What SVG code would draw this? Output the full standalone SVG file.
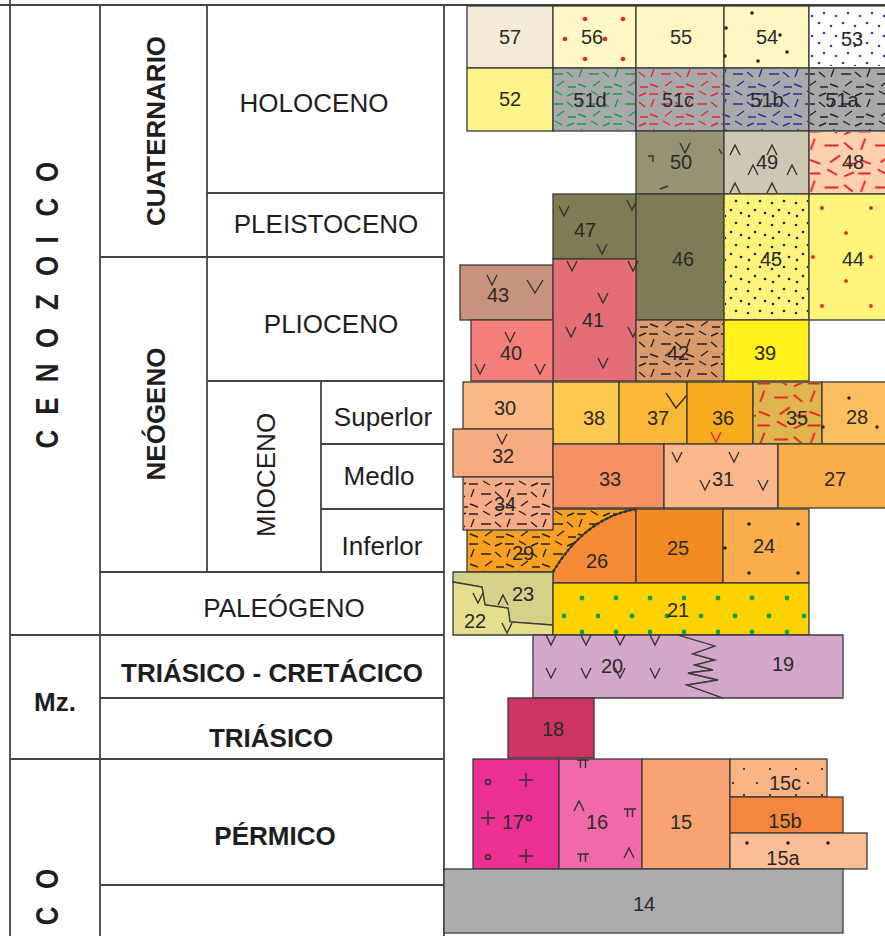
<svg xmlns="http://www.w3.org/2000/svg" width="885" height="936" viewBox="0 0 885 936">
<style>
.tl{stroke:#444;stroke-width:1.8;fill:none}
.bk{stroke:#3a3a3a;stroke-width:1.3}
.n{font-family:"Liberation Sans",Arial,sans-serif;font-size:20px;fill:#2a2a2a;text-anchor:middle}
.lb{font-family:"Liberation Sans",Arial,sans-serif;font-size:26px;fill:#1e1e1e;text-anchor:middle}
.bd{font-weight:bold}
.mk{fill:none;stroke:#333;stroke-width:1.4}
.mr{fill:none;stroke:#e8262a;stroke-width:1.5}
.dk{fill:#222}
.dr{fill:#e8262a}
.dg{fill:#0fa04a}
</style>
<defs>
<path id="dsh" d="M1 4h9M15 1l7 4M27 6l7-3M6 9l-3 8M13 14h10M27 12l6 5M2 24l8 3M17 26l7-5M28 27h8" fill="none" stroke-width="1.4"/>
<pattern id="pG" width="36" height="30" patternUnits="userSpaceOnUse"><use href="#dsh" stroke="#13a046"/></pattern>
<pattern id="pR" width="36" height="30" patternUnits="userSpaceOnUse"><use href="#dsh" stroke="#e8262a"/></pattern>
<pattern id="pB" width="36" height="30" patternUnits="userSpaceOnUse"><use href="#dsh" stroke="#2b2ba0"/></pattern>
<pattern id="pK" width="36" height="30" patternUnits="userSpaceOnUse"><use href="#dsh" stroke="#222"/></pattern>
<pattern id="pR2" width="36" height="30" patternUnits="userSpaceOnUse" patternTransform="scale(1.4)"><use href="#dsh" stroke="#e8262a"/></pattern>
<pattern id="pDk" width="24" height="22" patternUnits="userSpaceOnUse"><circle cx="4" cy="5" r="1.3" fill="#222"/><circle cx="16" cy="3" r="1.3" fill="#222"/><circle cx="11" cy="12" r="1.3" fill="#222"/><circle cx="21" cy="15" r="1.3" fill="#222"/><circle cx="5" cy="18" r="1.3" fill="#222"/></pattern>
<pattern id="pDb" width="24" height="20" patternUnits="userSpaceOnUse"><circle cx="3" cy="3" r="1.3" fill="#3a3aa8"/><circle cx="15" cy="6" r="1.3" fill="#3a3aa8"/><circle cx="8" cy="13" r="1.3" fill="#3a3aa8"/><circle cx="20" cy="16" r="1.3" fill="#3a3aa8"/></pattern>
<path id="v" d="M-5 -5L0 5L5 -5"/>
<path id="cr" d="M-5 5L0 -5L5 5"/>
<path id="pi" d="M-6 -3H6M-2.5 -3V5M2.5 -3V5"/>
<path id="pl" d="M-7 0H7M0 -7V7"/>
</defs>

<g id="table">
<path class="tl" d="M0 5H885M10 0V936M100 5V936M207 5V572M444 5V936M321 381V572M207 193H444M100 257H444M207 381H444M321 444H444M321 509H444M100 572H444M10 635H444M100 698H444M10 759H444M100 885H444"/>
</g>

<g id="t-cenozoico"><text class="lb bd" transform="translate(58,0) rotate(-90) scale(1,1.2)" x="-439 -406 -373 -338 -302 -266 -240 -207 -172" y="0">CENOZOICO</text></g>
<g id="t-paleozoico"><text class="lb bd" transform="translate(58,0) rotate(-90) scale(1,1.2)" x="-916 -879" y="0">CO</text></g>
<g id="t-mz"><text class="lb bd" x="55" y="711">Mz.</text></g>
<g id="t-cuaternario"><text class="lb bd" transform="translate(165,131) rotate(-90)">CUATERNARIO</text></g>
<g id="t-neogeno"><text class="lb bd" transform="translate(165,414) rotate(-90)">NEÓGENO</text></g>
<g id="t-mioceno"><text class="lb" transform="translate(275,475) rotate(-90)">MIOCENO</text></g>
<g id="t-holoceno"><text class="lb" x="314" y="112">HOLOCENO</text></g>
<g id="t-pleistoceno"><text class="lb" x="326" y="233">PLEISTOCENO</text></g>
<g id="t-plioceno"><text class="lb" x="331" y="333">PLIOCENO</text></g>
<g id="t-superior"><text class="lb" x="383" y="426">Superlor</text></g>
<g id="t-medio"><text class="lb" x="379" y="485">Medlo</text></g>
<g id="t-inferior"><text class="lb" x="382" y="555">Inferlor</text></g>
<g id="t-paleogeno"><text class="lb" x="284" y="617">PALEÓGENO</text></g>
<g id="t-triascret"><text class="lb bd" x="272" y="682">TRIÁSICO - CRETÁCICO</text></g>
<g id="t-triasico"><text class="lb bd" x="271" y="747">TRIÁSICO</text></g>
<g id="t-permico"><text class="lb bd" x="275" y="845">PÉRMICO</text></g>

<g id="units">
<g id="u57"><rect class="bk" x="467" y="6" width="86" height="62" fill="#f4ebd6"/><text class="n" x="510" y="44">57</text></g>
<g id="u56"><rect class="bk" x="553" y="6" width="83" height="62" fill="#fff7c5"/>
<circle class="dr" cx="585" cy="19" r="2.3"/><circle class="dr" cx="623" cy="19" r="2.3"/><circle class="dr" cx="565" cy="39" r="2.3"/><circle class="dr" cx="605" cy="39" r="2.3"/><circle class="dr" cx="585" cy="59" r="2.3"/><circle class="dr" cx="623" cy="59" r="2.3"/>
<text class="n" x="592" y="44">56</text></g>
<g id="u55"><rect class="bk" x="636" y="6" width="88" height="62" fill="#fff6c3"/><text class="n" x="681" y="44">55</text></g>
<g id="u54"><rect class="bk" x="724" y="6" width="85" height="62" fill="#fff6c3"/>
<circle class="dk" cx="752" cy="13" r="1.8"/><circle class="dk" cx="726" cy="28" r="1.8"/><circle class="dk" cx="780" cy="35" r="1.8"/><circle class="dk" cx="787" cy="52" r="1.8"/><circle class="dk" cx="758" cy="61" r="1.8"/><circle class="dk" cx="725" cy="56" r="1.8"/>
<text class="n" x="767" y="44">54</text></g>
<g id="u53"><rect class="bk" x="809" y="6" width="80" height="62" fill="#ffffff"/><rect x="811" y="8" width="76" height="58" fill="url(#pDb)"/><text class="n" x="852" y="46">53</text></g>

<g id="u52"><rect class="bk" x="467" y="68" width="86" height="63" fill="#fff38c"/><text class="n" x="510" y="106">52</text></g>
<g id="u51d"><rect class="bk" x="553" y="68" width="83" height="63" fill="#a8a9ab"/><rect x="554" y="69" width="81" height="61" fill="url(#pG)"/><text class="n" x="590" y="107">51d</text></g>
<g id="u51c"><rect class="bk" x="636" y="68" width="88" height="63" fill="#a8a9ab"/><rect x="637" y="69" width="86" height="61" fill="url(#pR)"/><text class="n" x="678" y="107">51c</text></g>
<g id="u51b"><rect class="bk" x="724" y="68" width="85" height="63" fill="#a8a9ab"/><rect x="725" y="69" width="83" height="61" fill="url(#pB)"/><text class="n" x="767" y="107">51b</text></g>
<g id="u51a"><rect class="bk" x="809" y="68" width="80" height="63" fill="#a8a9ab"/><rect x="810" y="69" width="78" height="61" fill="url(#pK)"/><text class="n" x="842" y="107">51a</text></g>

<g id="u50"><rect class="bk" x="636" y="131" width="88" height="63" fill="#969272"/>
<use href="#v" class="mk" x="685" y="148"/><path class="mk" d="M648 156h5v6M660 189l8-3M719 149l3 5"/>
<text class="n" x="681" y="169">50</text></g>
<g id="u49"><rect class="bk" x="724" y="131" width="85" height="63" fill="#cdc7b3"/>
<use href="#cr" class="mk" x="735" y="150"/><use href="#cr" class="mk" x="772" y="150"/><use href="#cr" class="mk" x="753" y="170"/><use href="#cr" class="mk" x="792" y="170"/><use href="#cr" class="mk" x="735" y="188"/><use href="#cr" class="mk" x="772" y="188"/>
<text class="n" x="767" y="169">49</text></g>
<g id="u48"><rect class="bk" x="809" y="131" width="80" height="63" fill="#fdd0b0"/><rect x="810" y="132" width="78" height="61" fill="url(#pR2)"/><text class="n" x="853" y="169">48</text></g>

<g id="u47"><rect class="bk" x="553" y="194" width="83" height="65" fill="#7f7b53"/>
<use href="#v" class="mk" x="564" y="211"/><use href="#v" class="mk" x="602" y="249"/><use href="#v" class="mk" x="632" y="205"/>
<text class="n" x="585" y="237">47</text></g>
<g id="u46"><rect class="bk" x="636" y="194" width="88" height="126" fill="#7f7b55"/><text class="n" x="683" y="266">46</text></g>
<g id="u45"><rect class="bk" x="724" y="194" width="85" height="126" fill="#fff47b"/><rect x="725" y="195" width="83" height="124" fill="url(#pDk)"/><text class="n" x="771" y="266">45</text></g>
<g id="u44"><rect class="bk" x="809" y="194" width="80" height="126" fill="#fff47b"/>
<circle class="dr" cx="822" cy="208" r="1.9"/><circle class="dr" cx="871" cy="208" r="1.9"/><circle class="dr" cx="846" cy="233" r="1.9"/><circle class="dr" cx="813" cy="257" r="1.9"/><circle class="dr" cx="871" cy="257" r="1.9"/><circle class="dr" cx="846" cy="281" r="1.9"/><circle class="dr" cx="822" cy="306" r="1.9"/><circle class="dr" cx="871" cy="306" r="1.9"/>
<text class="n" x="853" y="266">44</text></g>

<g id="u43"><rect class="bk" x="460" y="265" width="93" height="55" fill="#c8937b"/>
<use href="#v" class="mk" x="492" y="280"/><path class="mk" d="M527 280L535 293L543 280"/>
<text class="n" x="498" y="302">43</text></g>
<g id="u41"><rect class="bk" x="553" y="259" width="83" height="122" fill="#e46e78"/>
<use href="#v" class="mk" x="572" y="266"/><use href="#v" class="mk" x="633" y="266"/><use href="#v" class="mk" x="603" y="298"/><use href="#v" class="mk" x="571" y="332"/><use href="#v" class="mk" x="633" y="332"/><use href="#v" class="mk" x="603" y="363"/>
<text class="n" x="593" y="327">41</text></g>
<g id="u40"><rect class="bk" x="471" y="320" width="82" height="61" fill="#f47e79"/>
<use href="#v" class="mk" x="510" y="337"/><use href="#v" class="mk" x="480" y="369"/><use href="#v" class="mk" x="540" y="369"/>
<text class="n" x="511" y="360">40</text></g>
<g id="u42"><rect class="bk" x="636" y="320" width="88" height="61" fill="#da9a6c"/><rect x="637" y="321" width="86" height="59" fill="url(#pK)"/><text class="n" x="678" y="360">42</text></g>
<g id="u39"><rect class="bk" x="724" y="320" width="85" height="61" fill="#fff11c"/><text class="n" x="765" y="360">39</text></g>

<g id="u30"><rect class="bk" x="463" y="382" width="90" height="47" fill="#f9b884"/><text class="n" x="505" y="415">30</text></g>
<g id="u38"><rect class="bk" x="553" y="382" width="66" height="62" fill="#fdc950"/><text class="n" x="594" y="425">38</text></g>
<g id="u37"><rect class="bk" x="619" y="382" width="68" height="62" fill="#fbb836"/><path class="mk" d="M666 393L676 408L687 395"/><text class="n" x="658" y="425">37</text></g>
<g id="u36"><rect class="bk" x="687" y="382" width="66" height="62" fill="#f9ac1d"/><use href="#v" class="mr" x="716" y="437"/><text class="n" x="723" y="425">36</text></g>
<g id="u35"><rect class="bk" x="753" y="382" width="69" height="62" fill="#dfb54e"/><rect x="754" y="383" width="67" height="60" fill="url(#pR2)"/><text class="n" x="797" y="425">35</text></g>
<g id="u28"><rect class="bk" x="822" y="382" width="67" height="62" fill="#fbbf60"/>
<circle class="dk" cx="849" cy="398" r="1.7"/><circle class="dk" cx="877" cy="427" r="1.7"/><circle class="dk" cx="823" cy="427" r="1.7"/>
<text class="n" x="857" y="424">28</text></g>

<g id="u32"><rect class="bk" x="453" y="429" width="100" height="48" fill="#f7ab80"/><use href="#v" class="mk" x="502" y="439"/><text class="n" x="503" y="463">32</text></g>
<g id="u33"><rect class="bk" x="553" y="444" width="111" height="64" fill="#f49264"/><text class="n" x="610" y="486">33</text></g>
<g id="u31"><rect class="bk" x="664" y="444" width="114" height="64" fill="#fbb98b"/>
<use href="#v" class="mk" x="677" y="457"/><use href="#v" class="mk" x="734" y="457"/><use href="#v" class="mk" x="705" y="485"/><use href="#v" class="mk" x="763" y="485"/>
<text class="n" x="723" y="486">31</text></g>
<g id="u27"><rect class="bk" x="778" y="444" width="111" height="64" fill="#f8ae4b"/><text class="n" x="835" y="486">27</text></g>

<g id="u29"><path class="bk" d="M467 509H636Q585 518 553 572H467Z" fill="#f7a022"/><path d="M468 510H634Q585 519 553 571H468Z" fill="url(#pK)"/><text class="n" x="523" y="560">29</text></g>
<g id="u34"><rect class="bk" x="463" y="477" width="90" height="53" fill="#f7ab86"/><rect x="464" y="478" width="88" height="51" fill="url(#pK)"/><text class="n" x="505" y="511">34</text></g>
<g id="u26"><path class="bk" d="M553 572Q585 518 636 509V583H553Z" fill="#f58b37"/><path d="M553 572Q585 518 636 509" fill="none" stroke="#333" stroke-width="2.4" stroke-dasharray="3 2"/><text class="n" x="597" y="568">26</text></g>
<g id="u25"><rect class="bk" x="636" y="509" width="87" height="74" fill="#f48a22"/><text class="n" x="678" y="555">25</text></g>
<g id="u24"><rect class="bk" x="723" y="509" width="86" height="74" fill="#faae4c"/>
<circle class="dk" cx="749" cy="524" r="1.8"/><circle class="dk" cx="798" cy="524" r="1.8"/><circle class="dk" cx="749" cy="573" r="1.8"/><circle class="dk" cx="798" cy="573" r="1.8"/><circle class="dk" cx="725" cy="548" r="1.8"/>
<text class="n" x="764" y="553">24</text></g>

<g id="u23"><path class="bk" d="M453 572H553V625L510 622L508 608L485 605L482 587L453 582Z" fill="#d5d08a"/><use href="#cr" class="mk" x="503" y="600"/><text class="n" x="523" y="601">23</text></g>
<g id="u22"><path class="bk" d="M453 582L482 587L485 605L508 608L510 622L553 625V635H453Z" fill="#e4df8c"/><use href="#v" class="mk" x="478" y="598"/><use href="#v" class="mk" x="507" y="628"/><text class="n" x="475" y="628">22</text></g>
<g id="u21"><rect class="bk" x="553" y="583" width="256" height="52" fill="#ffd200"/>
<g class="dg">
<circle cx="582" cy="598" r="2.4"/><circle cx="616" cy="598" r="2.4"/><circle cx="650" cy="598" r="2.4"/><circle cx="684" cy="598" r="2.4"/><circle cx="718" cy="598" r="2.4"/><circle cx="752" cy="598" r="2.4"/><circle cx="787" cy="598" r="2.4"/>
<circle cx="564" cy="616" r="2.4"/><circle cx="598" cy="616" r="2.4"/><circle cx="632" cy="616" r="2.4"/><circle cx="667" cy="616" r="2.4"/><circle cx="701" cy="616" r="2.4"/><circle cx="735" cy="616" r="2.4"/><circle cx="769" cy="616" r="2.4"/><circle cx="804" cy="616" r="2.4"/>
<circle cx="582" cy="632" r="2.4"/><circle cx="616" cy="632" r="2.4"/><circle cx="650" cy="632" r="2.4"/><circle cx="684" cy="632" r="2.4"/><circle cx="718" cy="632" r="2.4"/><circle cx="752" cy="632" r="2.4"/><circle cx="787" cy="632" r="2.4"/>
</g>
<text class="n" x="678" y="617">21</text></g>

<g id="u20"><path class="bk" d="M533 635H678L715 646L693 654L715 660L695 665L713 670L688 673L718 680L687 685L723 698H533Z" fill="#d4a6ca"/>
<use href="#v" class="mk" x="551" y="640"/><use href="#v" class="mk" x="586" y="640"/><use href="#v" class="mk" x="620" y="640"/><use href="#v" class="mk" x="655" y="640"/>
<use href="#v" class="mk" x="551" y="673"/><use href="#v" class="mk" x="586" y="673"/><use href="#v" class="mk" x="620" y="673"/><use href="#v" class="mk" x="655" y="673"/>
<text class="n" x="612" y="673">20</text></g>
<g id="u19"><path class="bk" d="M678 635H843V698H723L687 685L718 680L688 673L713 670L695 665L715 660L693 654L715 646Z" fill="#d4a6ca"/><text class="n" x="783" y="671">19</text></g>

<g id="u18"><rect class="bk" x="508" y="698" width="86" height="60" fill="#cc3463"/><text class="n" x="553" y="736">18</text></g>

<g id="u17"><rect class="bk" x="473" y="759" width="86" height="110" fill="#ec2f92"/>
<use href="#pl" class="mk" x="526" y="780"/><use href="#pl" class="mk" x="488" y="818"/><use href="#pl" class="mk" x="526" y="856"/>
<circle class="mk" cx="488" cy="782" r="2.5"/><circle class="mk" cx="488" cy="857" r="2.5"/><circle class="mk" cx="529" cy="818" r="2.5"/>
<text class="n" x="513" y="829">17</text></g>
<g id="u16"><rect class="bk" x="559" y="759" width="83" height="110" fill="#f06aaa"/>
<use href="#cr" class="mk" x="579" y="806"/><use href="#pi" class="mk" x="630" y="812"/><use href="#pi" class="mk" x="583" y="857"/><use href="#cr" class="mk" x="629" y="853"/><use href="#pi" class="mk" x="583" y="763"/>
<text class="n" x="597" y="829">16</text></g>
<g id="u15"><rect class="bk" x="642" y="759" width="88" height="110" fill="#f6a271"/><text class="n" x="681" y="829">15</text></g>
<g id="u15c"><rect class="bk" x="730" y="759" width="97" height="38" fill="#f9b486"/>
<g class="dk"><circle cx="744" cy="769" r="1.1"/><circle cx="770" cy="769" r="1.1"/><circle cx="796" cy="769" r="1.1"/><circle cx="822" cy="769" r="1.1"/><circle cx="733" cy="783" r="1.1"/><circle cx="757" cy="783" r="1.1"/><circle cx="808" cy="783" r="1.1"/><circle cx="744" cy="795" r="1.1"/><circle cx="770" cy="795" r="1.1"/><circle cx="796" cy="795" r="1.1"/><circle cx="822" cy="795" r="1.1"/></g>
<text class="n" x="785" y="790">15c</text></g>
<g id="u15b"><rect class="bk" x="730" y="797" width="113" height="36" fill="#f48640"/><text class="n" x="785" y="828">15b</text></g>
<g id="u15a"><rect class="bk" x="730" y="833" width="137" height="36" fill="#fbbd95"/>
<circle class="dk" cx="747" cy="843" r="1.8"/><circle class="dk" cx="788" cy="843" r="1.8"/><circle class="dk" cx="828" cy="843" r="1.8"/>
<text class="n" x="783" y="865">15a</text></g>
<g id="u14"><rect class="bk" x="444" y="869" width="399" height="64" fill="#aaacae"/><text class="n" x="644" y="911">14</text></g>
</g>
</svg>
